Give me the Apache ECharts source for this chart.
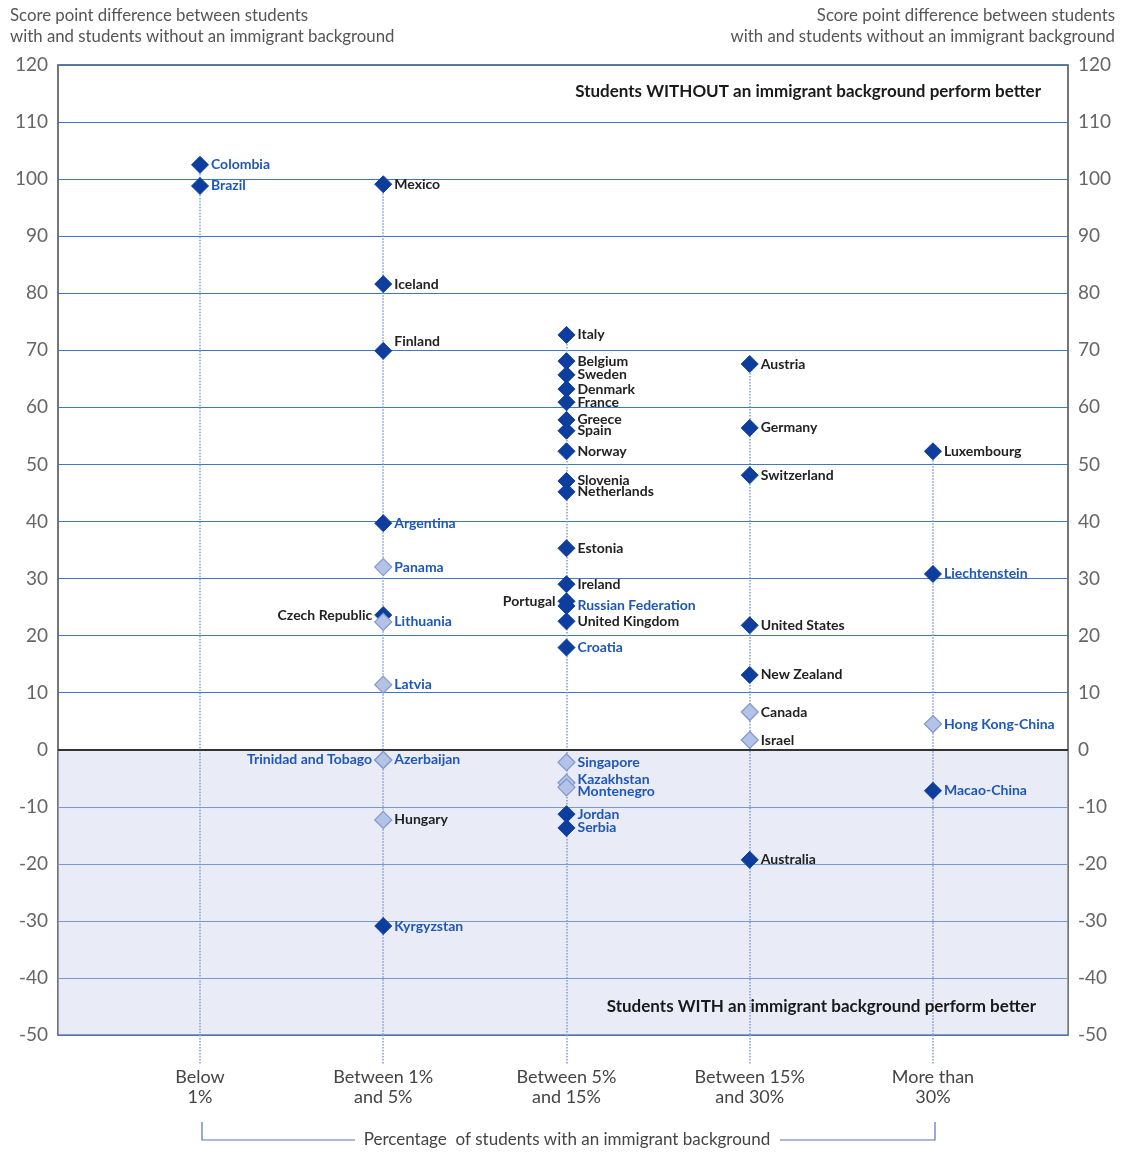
<!DOCTYPE html>
<html>
<head>
<meta charset="utf-8">
<script src="https://cdn.jsdelivr.net/npm/echarts@6/dist/echarts.min.js"></script>
<style>
html,body{margin:0;padding:0;background:#fff;}
#chart{width:1121px;height:1153px;}
</style>
</head>
<body>
<div id="chart"></div>
<script>
// ---- data ----
const categories = ['Below\n1%', 'Between 1%\nand 5%', 'Between 5%\nand 15%', 'Between 15%\nand 30%', 'More than\n30%'];
const countries = [
  'Colombia','Brazil',
  'Mexico','Iceland','Finland','Argentina','Panama','Czech Republic','Lithuania','Latvia','Azerbaijan','Trinidad and Tobago','Hungary','Kyrgyzstan',
  'Italy','Belgium','Sweden','Denmark','France','Greece','Spain','Norway','Slovenia','Netherlands','Estonia','Ireland','Portugal','Russian Federation','United Kingdom','Croatia','Singapore','Kazakhstan','Montenegro','Jordan','Serbia',
  'Austria','Germany','Switzerland','United States','New Zealand','Canada','Israel','Australia',
  'Luxembourg','Liechtenstein','Hong Kong-China','Macao-China'
];
const groupIndex = [
  0,0,
  1,1,1,1,1,1,1,1,1,1,1,1,
  2,2,2,2,2,2,2,2,2,2,2,2,2,2,2,2,2,2,2,2,2,
  3,3,3,3,3,3,3,3,
  4,4,4,4
];
const scoreDiff = [
  102.5, 98.8,
  99.1, 81.6, 69.9, 39.7, 32.0, 23.6, 22.4, 11.4, -1.8, -1.8, -12.3, -30.9,
  72.7, 68.1, 65.7, 63.2, 60.9, 57.8, 55.9, 52.3, 47.1, 45.2, 35.3, 29.0, 26.0, 25.2, 22.5, 17.9, -2.2, -5.8, -6.6, -11.3, -13.7,
  67.6, 56.4, 48.1, 21.8, 13.1, 6.6, 1.7, -19.3,
  52.3, 30.8, 4.5, -7.2
];
const significant = [
  1,1,
  1,1,1,1,0,1,0,0,0,0,0,1,
  1,1,1,1,1,1,1,1,1,1,1,1,1,1,1,1,0,0,0,1,1,
  1,1,1,1,1,0,0,1,
  1,1,0,1
];
const partnerEconomy = [
  1,1,
  0,0,0,1,1,0,1,1,1,1,0,1,
  0,0,0,0,0,0,0,0,0,0,0,0,0,1,0,1,1,1,1,1,1,
  0,0,0,0,0,0,0,0,
  0,1,1,1
];
const yTicks = { min: -50, max: 120, step: 10 };
const leftLabelCountries = ['Czech Republic', 'Portugal', 'Trinidad and Tobago'];
const labelNudges = { 'Finland': [0, -9], 'Kazakhstan': [0, -3], 'Montenegro': [0, 4] };

// ---- styles ----
const FONT = 'Lato';
const DARK = '#0e3e9d';
const LIGHT = '#b3c3e8';
const LIGHT_BORDER = '#8298c9';
const OECD_TXT = '#222';
const PARTNER_TXT = '#1f57b8';

const points = countries.map((c, i) => ({
  name: c,
  value: [groupIndex[i], scoreDiff[i]],
  itemStyle: significant[i]
    ? { color: DARK, borderColor: DARK, borderWidth: 1, opacity: 1 }
    : { color: LIGHT, borderColor: LIGHT_BORDER, borderWidth: 1.2, opacity: 1 },
  label: {
    show: true,
    position: leftLabelCountries.includes(c) ? 'left' : 'right',
    distance: 2,
    offset: labelNudges[c] || [0, 0],
    formatter: c,
    color: partnerEconomy[i] ? PARTNER_TXT : OECD_TXT
  }
}));

const dropLines = categories.map((_, k) => {
  const vals = scoreDiff.filter((v, i) => groupIndex[i] === k);
  return { coords: [[k, Math.max(...vals)], [k, yTicks.min]] };
});

const chart = echarts.init(document.getElementById('chart'), null, { renderer: 'canvas' });
chart.setOption({
  animation: false,
  backgroundColor: '#fff',
  textStyle: { fontFamily: FONT },
  grid: { left: 58, right: 53, top: 65, bottom: 118, show: true, borderColor: '#4a4a4a', borderWidth: 1.5, backgroundColor: 'transparent' },
  xAxis: {
    type: 'value', min: -0.775, max: 4.737,
    splitLine: { show: false },
    axisLine: { show: false, onZero: false },
    axisTick: { show: true, customValues: [0, 1, 2, 3, 4], length: 30, lineStyle: { color: '#7f9bd3', type: 'dotted', width: 1.5 } },
    axisLabel: {
      customValues: [0, 1, 2, 3, 4],
      formatter: v => categories[Math.round(v)],
      margin: 32, fontSize: 18, color: '#444', lineHeight: 20, fontFamily: FONT
    }
  },
  yAxis: [
    {
      type: 'value', min: yTicks.min, max: yTicks.max, interval: yTicks.step, position: 'left',
      axisLine: { show: false }, axisTick: { show: false },
      axisLabel: { fontSize: 19, color: '#666', margin: 10, fontFamily: FONT },
      splitLine: { show: true, lineStyle: { color: '#3d78c6', width: 1.2 } }
    },
    {
      type: 'value', min: yTicks.min, max: yTicks.max, interval: yTicks.step, position: 'right',
      axisLine: { show: false }, axisTick: { show: false },
      axisLabel: { fontSize: 19, color: '#666', margin: 10, fontFamily: FONT },
      splitLine: { show: false }
    }
  ],
  series: [
    {
      type: 'lines', coordinateSystem: 'cartesian2d', silent: true, z: 2,
      data: dropLines,
      lineStyle: { color: '#7f9bd3', type: 'dotted', width: 1.5, opacity: 1 },
      markArea: {
        silent: true,
        itemStyle: { color: 'rgba(200,206,232,0.4)' },
        data: [[{ yAxis: yTicks.min }, { yAxis: 0 }]]
      },
      markLine: {
        silent: true, symbol: 'none', label: { show: false },
        lineStyle: { color: '#333', width: 1.8, type: 'solid' },
        data: [{ yAxis: 0 }]
      }
    },
    {
      type: 'scatter', z: 5,
      symbol: 'diamond', symbolSize: [17, 17],
      data: points,
      label: { fontSize: 14, fontWeight: 'bold', fontFamily: FONT }
    }
  ],
  graphic: [
    { type: 'text', z: 100, x: 10, y: 5, style: { text: 'Score point difference between students\nwith and students without an immigrant background', font: '16.8px ' + FONT, fill: '#555', lineHeight: 21 } },
    { type: 'text', z: 100, x: 1115, y: 5, style: { text: 'Score point difference between students\nwith and students without an immigrant background', font: '16.8px ' + FONT, fill: '#555', lineHeight: 21, align: 'right' } },
    { type: 'text', z: 100, x: 1041, y: 92, style: { text: 'Students WITHOUT an immigrant background perform better', font: 'bold 17px ' + FONT, fill: '#1a1a1a', align: 'right', verticalAlign: 'middle' } },
    { type: 'text', z: 100, x: 1036, y: 1007, style: { text: 'Students WITH an immigrant background perform better', font: 'bold 17px ' + FONT, fill: '#1a1a1a', align: 'right', verticalAlign: 'middle' } },
    { type: 'polyline', z: 100, shape: { points: [[202, 1122], [202, 1140], [355, 1140]] }, style: { stroke: '#5675b0', lineWidth: 1.2, fill: null } },
    { type: 'polyline', z: 100, shape: { points: [[780, 1140], [935, 1140], [935, 1122]] }, style: { stroke: '#5675b0', lineWidth: 1.2, fill: null } },
    { type: 'text', z: 100, x: 567, y: 1140, style: { text: 'Percentage  of students with an immigrant background', font: '17px ' + FONT, fill: '#444', align: 'center', verticalAlign: 'middle' } }
  ]
});
</script>
</body>
</html>
